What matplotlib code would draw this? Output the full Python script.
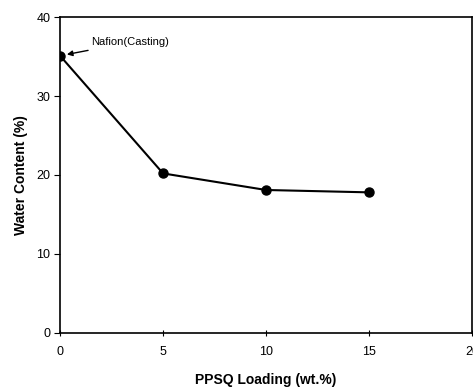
import matplotlib.pyplot as plt

plt.rcParams['font.family'] = ['Liberation Sans', 'DejaVu Sans']

loading = [0, 5, 10, 15]
water = [35.1, 20.2, 18.1, 17.8]
xticks = [0, 5, 10, 15, 20]
yticks = [0, 10, 20, 30, 40]

fig = plt.figure(figsize=(4.73, 3.88), dpi=100)
ax = fig.add_axes([0.127, 0.142, 0.871, 0.814])

ax.plot(loading, water, color="black", lw=1.5, marker="o", ms=6.5)
ax.set_xlim(0, 20)
ax.set_ylim(0, 40)
ax.set_xticks(xticks)
ax.set_yticks(yticks)
ax.tick_params(axis="y", direction="out", length=4, labelsize=9, pad=3)
ax.tick_params(axis="x", direction="inout", length=5, labelsize=9, pad=7)

for s in ax.spines.values():
    s.set_linewidth(1.2)

ax.annotate("Nafion(Casting)", xy=(loading[0], water[0]), xytext=(1.5, 36.8),
            fontsize=8, va="center", ha="left",
            arrowprops=dict(arrowstyle="-|>", color="black", lw=1,
                            mutation_scale=8, shrinkA=1, shrinkB=5))

ax.set_xlabel("PPSQ Loading (wt.%)", fontsize=10, fontweight="bold", labelpad=11)
ax.set_ylabel("Water Content (%)", fontsize=10, fontweight="bold", labelpad=6)

fig.savefig("out.png", dpi=100)
